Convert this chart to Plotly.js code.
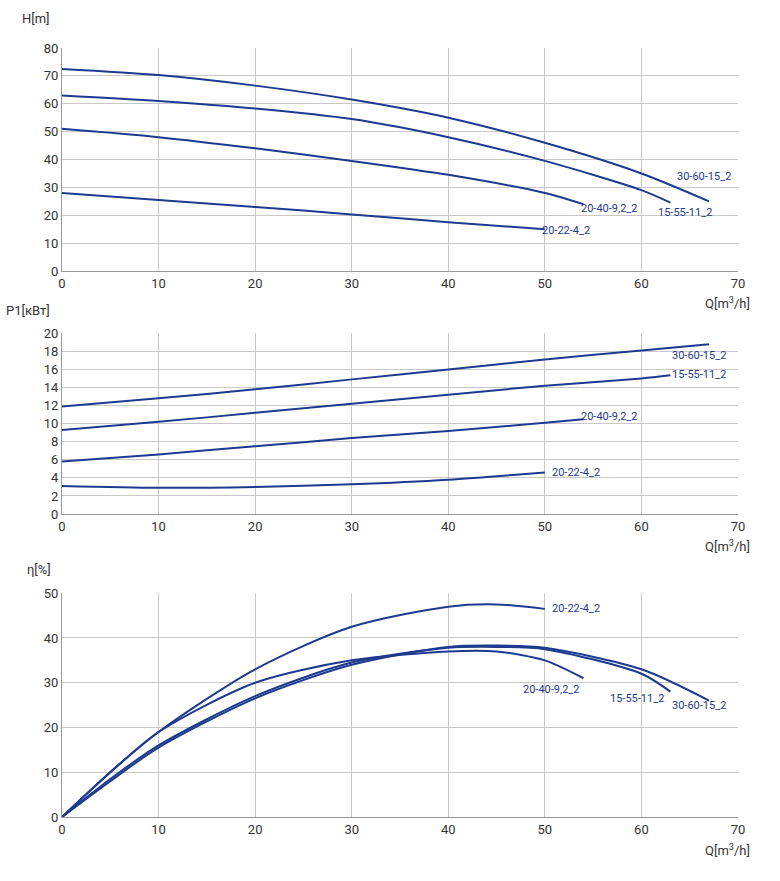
<!DOCTYPE html>
<html><head><meta charset="utf-8">
<script src="https://cdn.plot.ly/plotly-3.0.1.min.js"></script>
<style>body{margin:0}</style></head>
<body><div id="myPlot" style="width:780px;height:881px"></div>
<script>
// pump names
let names = ['30-60-15_2', '15-55-11_2', '20-40-9,2_2', '20-22-4_2'];

// head curves H[m]
let qH1 = [0, 10, 20, 30, 40, 50, 60, 67];
let h1 = [72.5, 70.3, 66.5, 61.5, 55, 46, 35, 25];
let qH2 = [0, 10, 20, 30, 40, 50, 60, 63];
let h2 = [63, 61, 58.3, 54.5, 48, 39.5, 29, 24.5];
let qH3 = [0, 10, 20, 30, 40, 50, 54];
let h3 = [51, 48, 44, 39.5, 34.5, 28, 24];
let qH4 = [0, 10, 20, 30, 40, 50];
let h4 = [28, 25.5, 23, 20.3, 17.5, 15];

// power curves P1[kW]
let p1 = [11.9, 12.8, 13.8, 14.9, 16.0, 17.1, 18.1, 18.8];
let p2 = [9.3, 10.2, 11.2, 12.2, 13.2, 14.2, 15.0, 15.35];
let p3 = [5.8, 6.6, 7.5, 8.4, 9.2, 10.1, 10.5];
let p4 = [3.1, 2.9, 3.0, 3.3, 3.8, 4.6];

// efficiency curves
let qE1 = [0, 5, 10, 20, 30, 40, 45, 50, 60, 67];
let e1 = [0, 8, 15.5, 26.5, 34, 38, 38.3, 37.8, 33, 26];
let qE2 = [0, 5, 10, 20, 30, 40, 45, 50, 60, 63];
let e2 = [0, 8.5, 16, 27, 34.5, 37.8, 38, 37.5, 32, 28];
let qE3 = [0, 5, 10, 20, 30, 40, 45, 50, 54];
let e3 = [0, 10, 19, 30, 35, 37, 37, 35, 31];
let qE4 = [0, 5, 10, 20, 30, 40, 45, 50];
let e4 = [0, 10, 19, 33, 42.5, 47, 47.5, 46.5];

let col = '#1e3a8f';
function tr(x, y, ax) {
  return {x: x, y: y, xaxis: 'x' + ax, yaxis: 'y' + ax, type: 'scatter', mode: 'lines',
    line: {color: col, width: 2, shape: 'spline', smoothing: 0.8}, showlegend: false, hoverinfo: 'skip'};
}
let data1 = [
  tr(qH1, h1, ''), tr(qH2, h2, ''), tr(qH3, h3, ''), tr(qH4, h4, ''),
  tr(qH1, p1, 2), tr(qH2, p2, 2), tr(qH3, p3, 2), tr(qH4, p4, 2),
  tr(qE1, e1, 3), tr(qE2, e2, 3), tr(qE3, e3, 3), tr(qE4, e4, 3)
];

let ax = {range: [0, 70], dtick: 10, showgrid: true, gridcolor: '#c8c8c8', zeroline: false,
  showline: true, linecolor: '#999', tickfont: {size: 13, color: '#333'}, ticks: ''};
function yax(dom, rng, dt) {
  return {domain: dom, range: rng, dtick: dt, showgrid: true, gridcolor: '#c8c8c8', zeroline: false,
    showline: true, linecolor: '#999', tickfont: {size: 13, color: '#333'}, ticks: ''};
}
function lab(x, y, t, ax) {
  return {x: x, y: y, xref: 'x' + ax, yref: 'y' + ax, text: t, showarrow: false,
    xanchor: 'left', font: {size: 11, color: col}};
}
function ttl(x, y, t, xa, ya) {
  return {x: x, y: y, xref: 'paper', yref: 'paper', text: t, showarrow: false,
    xanchor: xa, yanchor: ya, font: {size: 13, color: '#333'}};
}
let layout = {
  width: 780, height: 881, margin: {l: 62, r: 42, t: 48, b: 64},
  paper_bgcolor: '#fff', plot_bgcolor: '#fff', font: {family: 'Roboto'},
  xaxis: Object.assign({}, ax, {anchor: 'y'}),
  yaxis: yax([0.710, 1], [0, 80], 10),
  xaxis2: Object.assign({}, ax, {anchor: 'y2'}),
  yaxis2: yax([0.394, 0.629], [0, 20], 2),
  xaxis3: Object.assign({}, ax, {anchor: 'y3'}),
  yaxis3: yax([0, 0.291], [0, 50], 10),
  annotations: [
    lab(63.5, 34, names[0], ''), lab(61.5, 21, names[1], ''), lab(53.5, 22.5, names[2], ''), lab(49.5, 14.5, names[3], ''),
    lab(63, 17.5, names[0], 2), lab(63, 15.4, names[1], 2), lab(53.5, 10.8, names[2], 2), lab(50.5, 4.6, names[3], 2),
    lab(63, 25, names[0], 3), lab(56.5, 26.5, names[1], 3), lab(47.5, 28.5, names[2], 3), lab(50.5, 46.5, names[3], 3),
    ttl(-0.062, 1.026, 'H[m]', 'left', 'bottom'),
    ttl(-0.086, 0.646, 'P1[кВт]', 'left', 'bottom'),
    ttl(-0.054, 0.31, 'η[%]', 'left', 'bottom'),
    ttl(1.02, 0.682, 'Q[m<sup>3</sup>/h]', 'right', 'top'),
    ttl(1.02, 0.366, 'Q[m<sup>3</sup>/h]', 'right', 'top'),
    ttl(1.02, -0.03, 'Q[m<sup>3</sup>/h]', 'right', 'top')
  ]
};
Plotly.newPlot("myPlot", data1, layout, {displayModeBar: false});
</script></body></html>
